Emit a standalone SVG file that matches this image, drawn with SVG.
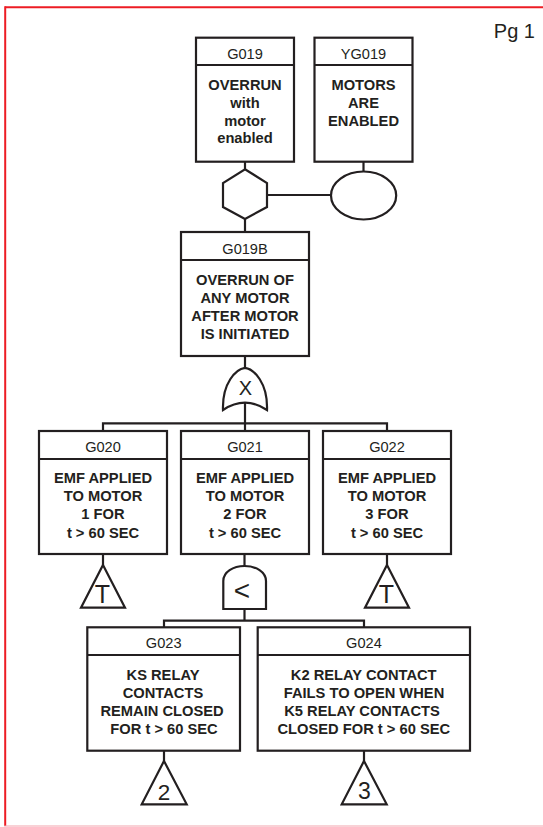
<svg xmlns="http://www.w3.org/2000/svg" width="543" height="827" viewBox="0 0 543 827">
  <style>
    .box { fill: #ffffff; stroke: #231f20; stroke-width: 2.2; }
    .ln { fill: none; stroke: #231f20; stroke-width: 2.2; }
    .gate { fill: #ffffff; stroke: #231f20; stroke-width: 2.2; stroke-linejoin: miter; }
    .id { font-family: "Liberation Sans", Arial, sans-serif; font-size: 14.6px; fill: #231f20; text-anchor: middle; }
    .desc { font-family: "Liberation Sans", Arial, sans-serif; font-size: 14.7px; font-weight: bold; fill: #231f20; text-anchor: middle; }
    .sym { font-family: "Liberation Sans", Arial, sans-serif; fill: #231f20; text-anchor: middle; }
  </style>
  <rect x="0" y="0" width="543" height="827" fill="#ffffff"/>

  <!-- page frame -->
  <g id="frame">
    <line x1="5.2" y1="7.3" x2="543" y2="7.3" stroke="#ed1c24" stroke-width="2"/>
    <line x1="5.2" y1="6.3" x2="5.2" y2="826" stroke="#ed1c24" stroke-width="2"/>
    <line x1="4.2" y1="826" x2="543" y2="826" stroke="#f4a3ad" stroke-width="1.2"/>
    <text x="535" y="38" font-family="Liberation Sans, Arial, sans-serif" font-size="20" fill="#231f20" text-anchor="end">Pg 1</text>
  </g>

  <!-- connectors -->
  <g id="connectors" class="ln">
    <line x1="245" y1="161.7" x2="245" y2="169.3"/>
    <line x1="363.5" y1="161.7" x2="363.5" y2="171.5"/>
    <line x1="267" y1="195" x2="331" y2="195"/>
    <line x1="245" y1="219" x2="245" y2="232"/>
    <line x1="245" y1="356" x2="245" y2="368"/>
    <line x1="245" y1="402.5" x2="245" y2="431"/>
    <polyline points="103,431 103,423.3 387,423.3 387,431"/>
    <line x1="103" y1="554" x2="103" y2="565"/>
    <line x1="387" y1="554" x2="387" y2="565"/>
    <line x1="244.5" y1="554" x2="244.5" y2="566"/>
    <line x1="244.5" y1="609" x2="244.5" y2="620.7"/>
    <polyline points="164,627.3 164,620.7 364,620.7 364,627.3"/>
    <line x1="164" y1="750.7" x2="164" y2="761"/>
    <line x1="364" y1="750.7" x2="364" y2="761"/>
  </g>

  <!-- events -->
  <g id="G019">
    <rect class="box" x="196" y="37.7" width="98" height="124"/>
    <line class="ln" x1="196" y1="65" x2="294" y2="65"/>
    <text class="id" x="245" y="58.5">G019</text>
    <text class="desc" x="245" y="90.3">OVERRUN</text>
    <text class="desc" x="245" y="108">with</text>
    <text class="desc" x="245" y="125.7">motor</text>
    <text class="desc" x="245" y="143.4">enabled</text>
  </g>

  <g id="YG019">
    <rect class="box" x="314.5" y="37.7" width="98" height="124"/>
    <line class="ln" x1="314.5" y1="65" x2="412.5" y2="65"/>
    <text class="id" x="363.5" y="58.5">YG019</text>
    <text class="desc" x="363.5" y="90.3">MOTORS</text>
    <text class="desc" x="363.5" y="108">ARE</text>
    <text class="desc" x="363.5" y="125.7">ENABLED</text>
  </g>

  <g id="inhibit-G019">
    <polygon class="gate" points="245,169.3 267,183 267,207 245,219 223,207 223,183"/>
  </g>

  <g id="condition-YG019">
    <ellipse class="gate" cx="363.6" cy="195.5" rx="32.6" ry="24"/>
  </g>

  <g id="G019B">
    <rect class="box" x="181" y="232" width="128" height="124"/>
    <line class="ln" x1="181" y1="260" x2="309" y2="260"/>
    <text class="id" x="245" y="253.5">G019B</text>
    <text class="desc" x="245" y="285.2">OVERRUN OF</text>
    <text class="desc" x="245" y="303.2">ANY MOTOR</text>
    <text class="desc" x="245" y="321.2">AFTER MOTOR</text>
    <text class="desc" x="245" y="339.2">IS INITIATED</text>
  </g>

  <g id="xor-G019B">
    <path class="gate" d="M223,410 C222,383 236,369 245,367.8 C254,369 268,383 267,410 Q245,395.4 223,410 Z"/>
    <text class="sym" x="245.5" y="395.3" font-size="20">X</text>
  </g>

  <g id="G020">
    <rect class="box" x="39" y="431" width="128" height="123"/>
    <line class="ln" x1="39" y1="459" x2="167" y2="459"/>
    <text class="id" x="103" y="451.9">G020</text>
    <text class="desc" x="103" y="483">EMF APPLIED</text>
    <text class="desc" x="103" y="501.2">TO MOTOR</text>
    <text class="desc" x="103" y="519.4">1 FOR</text>
    <text class="desc" x="103" y="537.6">t &gt; 60 SEC</text>
  </g>

  <g id="G021">
    <rect class="box" x="181" y="431" width="128" height="123"/>
    <line class="ln" x1="181" y1="459" x2="309" y2="459"/>
    <text class="id" x="245" y="451.9">G021</text>
    <text class="desc" x="245" y="483">EMF APPLIED</text>
    <text class="desc" x="245" y="501.2">TO MOTOR</text>
    <text class="desc" x="245" y="519.4">2 FOR</text>
    <text class="desc" x="245" y="537.6">t &gt; 60 SEC</text>
  </g>

  <g id="G022">
    <rect class="box" x="323" y="431" width="128" height="123"/>
    <line class="ln" x1="323" y1="459" x2="451" y2="459"/>
    <text class="id" x="387" y="451.9">G022</text>
    <text class="desc" x="387" y="483">EMF APPLIED</text>
    <text class="desc" x="387" y="501.2">TO MOTOR</text>
    <text class="desc" x="387" y="519.4">3 FOR</text>
    <text class="desc" x="387" y="537.6">t &gt; 60 SEC</text>
  </g>

  <g id="transfer-G020">
    <polygon class="gate" points="103,565 125,607.7 81,607.7"/>
    <text class="sym" x="102.5" y="602.5" font-size="25">T</text>
  </g>

  <g id="priority-and-G021">
    <path class="gate" d="M223.3,609 L223.3,581 C223.3,572 233,566 244.6,566 C256,566 266,572 266,581 L266,609 Z"/>
    <text class="sym" x="242" y="600" font-size="28">&lt;</text>
  </g>

  <g id="transfer-G022">
    <polygon class="gate" points="387,565 409,607.7 365,607.7"/>
    <text class="sym" x="386.5" y="602.5" font-size="25">T</text>
  </g>

  <g id="G023">
    <rect class="box" x="87.3" y="627.3" width="152.7" height="123.4"/>
    <line class="ln" x1="87.3" y1="655" x2="240" y2="655"/>
    <text class="id" x="163.7" y="647.9">G023</text>
    <text class="desc" x="163" y="680.2">KS RELAY</text>
    <text class="desc" x="163" y="697.9">CONTACTS</text>
    <text class="desc" x="162" y="715.9">REMAIN CLOSED</text>
    <text class="desc" x="164" y="734.2">FOR t &gt; 60 SEC</text>
  </g>

  <g id="G024">
    <rect class="box" x="257.7" y="627.3" width="212.3" height="123.4"/>
    <line class="ln" x1="257.7" y1="655" x2="470" y2="655"/>
    <text class="id" x="363.9" y="647.9">G024</text>
    <text class="desc" x="363.7" y="680.2">K2 RELAY CONTACT</text>
    <text class="desc" x="364" y="697.9">FAILS TO OPEN WHEN</text>
    <text class="desc" x="362" y="715.9">K5 RELAY CONTACTS</text>
    <text class="desc" x="363.8" y="734.2">CLOSED FOR t &gt; 60 SEC</text>
  </g>

  <g id="transfer-2">
    <polygon class="gate" points="164,761 186.7,804.3 141.7,804.3"/>
    <text class="sym" x="164" y="799.7" font-size="22.5">2</text>
  </g>

  <g id="transfer-3">
    <polygon class="gate" points="364,761 386.7,804.3 341.7,804.3"/>
    <text class="sym" x="364.3" y="798.5" font-size="23">3</text>
  </g>
</svg>
